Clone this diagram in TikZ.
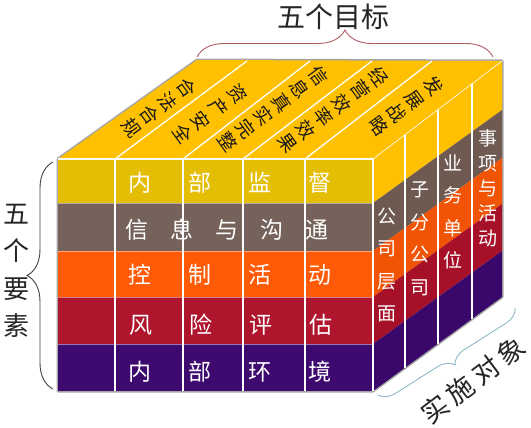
\documentclass[tikz,border=0pt]{standalone}
\usepackage{fontspec}
\setmainfont{Noto Sans CJK SC}
\usetikzlibrary{calc,decorations.pathreplacing}
\definecolor{topgold}{HTML}{FFC000}
\definecolor{frontgold}{HTML}{E4BD05}
\definecolor{infobrown}{HTML}{75625A}
\definecolor{ctrlorange}{HTML}{FF5A05}
\definecolor{riskred}{HTML}{B0152E}
\definecolor{envpurple}{HTML}{3E0A70}
\definecolor{sidegold}{HTML}{FFC000}
\definecolor{sidebrown}{HTML}{6E5A50}
\definecolor{sideorange}{HTML}{F25405}
\definecolor{sidered}{HTML}{A61129}
\definecolor{sidepurple}{HTML}{3A086B}
\definecolor{goalbrace}{HTML}{B05C64}
\definecolor{unitbrace}{HTML}{8FB8C8}

\begin{document}
\begin{tikzpicture}[x=1pt,y=-1pt,
    objtext/.style={rotate=-54,align=center,text=black!90,font=\fontsize{18.5}{22.5}\selectfont},
    elemtext/.style={text=white,font=\fontsize{23}{23}\selectfont},
    unittext/.style={text=white,align=center,font=\fontsize{19}{32.5}\selectfont},
    labeltext/.style={text=black!85,align=center},
    sepline/.style={white,line width=1.3pt},
    bracepath/.style={decorate,decoration={brace,amplitude=#1},line width=0.9pt}]

    \useasboundingbox (0,0) rectangle (531,428);

    % corners of the cube
    \coordinate (ftl) at (58,159);
    \coordinate (ftr) at (373,159);
    \coordinate (fbl) at (58,391);
    \coordinate (fbr) at (373,391);
    \coordinate (btl) at (197,60);
    \coordinate (btr) at (502,61);
    \coordinate (bbr) at (502,297);

    \draw[black!35,line width=3pt,line join=round] (fbl) -- (ftl) -- (btl) -- (btr) -- (bbr) -- (fbr) -- cycle;

    % top face: five objectives
    \fill[topgold] (ftl) -- (btl) -- (btr) -- (ftr) -- cycle;
    \foreach \fx/\bx in {115/247,183/310,243/372,305/432}
        \draw[sepline] (\fx,159) -- (\bx,61);

    % front face: five elements
    \foreach \ya/\yb/\col in {159/203/frontgold,203/251/infobrown,251/297/ctrlorange,297/344/riskred,344/391/envpurple}
        \fill[\col] (58,\ya) rectangle (373,\yb);
    \foreach \y in {203,251,297,344}
        \draw[white,opacity=.45,line width=.6pt] (58,\y) -- (373,\y);
    \foreach \x in {115,183,243,305}
        \draw[sepline] (\x,159) -- (\x,391);

    % right face: units
    \foreach \fa/\fb/\ba/\bb/\col in {159/203/61/110/sidegold,203/251/110/158/sidebrown,251/297/158/204/sideorange,297/344/204/251/sidered,344/391/251/297/sidepurple}
        \fill[\col] (373,\fa) -- (502,\ba) -- (502,\bb) -- (373,\fb) -- cycle;
    \foreach \t in {0.248,0.504,0.767}
        \draw[sepline] ($(ftr)!\t!(btr)$) -- ($(fbr)!\t!(bbr)$);
    \draw[sepline] (ftl) -- (ftr) -- (fbr);
    \draw[white,line width=.6pt] (ftr) -- (btr);

    % objectives
    \node[objtext] (legal) at (159,108) {合\\法\\合\\规};
    \node[objtext] (assets) at (210,114) {资\\产\\安\\全};
    \node[objtext] (report) at (273,109) {信\\息\\真\\实\\完\\整};
    \node[objtext] (ops) at (333,110) {经\\营\\效\\率\\效\\果};
    \node[objtext] (strategy) at (406,106) {发\\展\\战\\略};

    % elements
    \node[elemtext] (monitor) at (230,183) {内\hskip37pt 部\hskip37pt 监\hskip37pt 督};
    \node[elemtext] (info) at (227,230) {信\hskip22pt 息\hskip22pt 与\hskip22pt 沟\hskip22pt 通};
    \node[elemtext] (control) at (230,275) {控\hskip37pt 制\hskip37pt 活\hskip37pt 动};
    \node[elemtext] (risk) at (231,325) {风\hskip37pt 险\hskip37pt 评\hskip37pt 估};
    \node[elemtext] (env) at (230,372) {内\hskip37pt 部\hskip37pt 环\hskip37pt 境};

    % units
    \node[unittext] (company) at (387,265) {公\\司\\层\\面};
    \node[unittext] (branch) at (420,239) {子\\分\\公\\司};
    \node[unittext] (business) at (453,212) {业\\务\\单\\位};
    \node[unittext,font=\fontsize{19}{25}\selectfont] (activity) at (488,188) {事\\项\\与\\活\\动};

    % labels and braces
    \node[labeltext,font=\fontsize{28}{28}\selectfont] (goals) at (333,17) {五个目标};
    \node[labeltext,font=\fontsize{26}{37.5}\selectfont] (elements) at (17,271) {五\\个\\要\\素};
    \node[labeltext,rotate=37,font=\fontsize{27}{27}\selectfont] (targets) at (473,380) {实\hskip5pt 施\hskip5pt 对\hskip5pt 象};

    \coordinate (gl) at (197,57);
    \coordinate (gr) at (493,57);
    \coordinate (et) at (53,162);
    \coordinate (eb) at (53,389);
    \coordinate (ul) at (378,395);
    \coordinate (ur) at (515,308);
    \draw[bracepath=27pt,goalbrace] (gl) -- (gr);
    \draw[bracepath=26pt,black!75] (eb) -- (et);
    \draw[bracepath=16pt,unitbrace] (ur) -- (ul);
\end{tikzpicture}
\end{document}
